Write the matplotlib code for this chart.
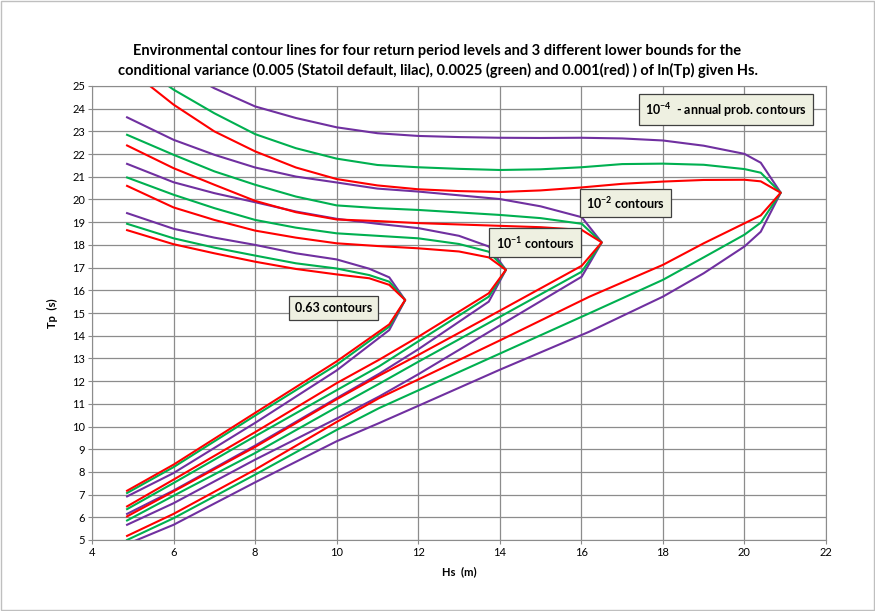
import matplotlib
matplotlib.use("Agg")
import matplotlib.pyplot as plt
from matplotlib.patches import Rectangle

plt.rcParams['font.family'] = ['Lato', 'DejaVu Sans']
plt.rcParams['mathtext.default'] = 'regular'

# 0.63 contours (Hs path: upper branch, peak, lower branch)
hs_063 = [4.86, 6, 7, 8, 9, 10, 10.8, 11.29, 11.68, 11.29, 10, 8, 6, 4.86]
tp_063_lilac = [19.40, 18.71, 18.32, 18.00, 17.63, 17.36, 16.95, 16.57, 15.57, 14.25, 12.47, 10.16, 7.95, 6.92]
tp_063_green = [18.93, 18.29, 17.88, 17.53, 17.19, 16.96, 16.67, 16.38, 15.57, 14.40, 12.72, 10.48, 8.21, 7.07]
tp_063_red = [18.65, 18.03, 17.63, 17.26, 16.94, 16.70, 16.53, 16.24, 15.57, 14.50, 12.87, 10.60, 8.32, 7.17]

# 10^-1 contours
hs_1e1 = [4.86, 6, 7, 8, 9, 10, 11, 12, 13, 13.73, 14.15, 13.73, 12, 11.04, 10, 8, 6, 4.86]
tp_1e1_lilac = [21.57, 20.76, 20.28, 19.88, 19.47, 19.15, 18.93, 18.74, 18.40, 17.93, 16.90,
                15.50, 13.40, 12.32, 11.25, 9.16, 7.18, 6.15]
tp_1e1_green = [20.97, 20.21, 19.62, 19.10, 18.76, 18.51, 18.40, 18.29, 18.04, 17.70, 16.90,
                15.72, 13.75, 12.65, 11.60, 9.57, 7.51, 6.36]
tp_1e1_red = [20.60, 19.65, 19.10, 18.63, 18.32, 18.07, 17.95, 17.85, 17.71, 17.45, 16.90,
              15.87, 13.95, 12.94, 11.91, 9.75, 7.66, 6.48]

# 10^-2 contours
hs_1e2 = [4.86, 6, 7, 8, 9, 10, 11, 12, 14, 15, 16.01, 16.50, 16.01, 14, 12, 11.04, 10, 8, 6, 4.86]
tp_1e2_lilac = [23.62, 22.63, 21.97, 21.41, 21.01, 20.75, 20.48, 20.35, 20.02, 19.70, 19.22, 18.11,
                16.60, 14.45, 12.30, 11.32, 10.35, 8.54, 6.62, 5.67]
tp_1e2_green = [22.85, 21.97, 21.24, 20.65, 20.13, 19.74, 19.62, 19.54, 19.32, 19.18, 18.93, 18.11,
                16.82, 14.83, 12.85, 11.88, 10.85, 8.83, 6.95, 5.86]
tp_1e2_red = [22.38, 21.38, 20.65, 19.94, 19.44, 19.12, 19.05, 18.96, 18.84, 18.78, 18.66, 18.11,
              17.08, 15.10, 13.15, 12.24, 11.20, 9.10, 7.14, 6.04]

# 10^-4 contours
hs_1e4 = [4.86, 6, 7, 8, 9, 10, 11, 12, 13, 14, 15, 16, 17, 18, 19, 20, 20.40, 20.89,
          20.40, 20, 19, 18, 16.2, 14, 12, 11.04, 10, 8, 6, 4.86]
tp_1e4_lilac = [27.3, 25.9, 24.9, 24.10, 23.59, 23.18, 22.92, 22.80, 22.75, 22.72, 22.71, 22.72, 22.69,
                22.60, 22.37, 22.01, 21.62, 20.30,
                18.58, 17.93, 16.75, 15.72, 14.18, 12.50, 10.91, 10.15, 9.35, 7.54, 5.67, 4.82]
tp_1e4_green = [26.3, 24.84, 23.80, 22.88, 22.26, 21.80, 21.52, 21.42, 21.35, 21.30, 21.33, 21.42, 21.56,
                21.58, 21.53, 21.34, 21.18, 20.30,
                18.98, 18.45, 17.45, 16.46, 14.99, 13.21, 11.59, 10.81, 9.85, 7.88, 5.96, 5.00]
tp_1e4_red = [25.8, 24.18, 23.00, 22.12, 21.41, 20.90, 20.62, 20.45, 20.37, 20.33, 20.40, 20.53, 20.69,
              20.79, 20.86, 20.87, 20.80, 20.30,
              19.30, 18.95, 18.07, 17.12, 15.72, 13.79, 12.07, 11.25, 10.20, 8.10, 6.15, 5.18]

labels = ["0.63 contours", "10$^{-1}$ contours", "10$^{-2}$ contours",
          "10$^{-4}$  - annual prob. contours"]
label_pos = [(9.92, 15.21), (14.87, 18.10), (17.08, 19.84), (19.55, 23.96)]

lilac, green, red = '#7030a0', '#00b050', '#ff0000'

fig = plt.figure(figsize=(8.75, 6.11), dpi=100)
ax = fig.add_axes([92 / 875, 1 - 540 / 611, 734 / 875, 454 / 611])

levels = [(hs_063, tp_063_lilac, tp_063_green, tp_063_red),
          (hs_1e1, tp_1e1_lilac, tp_1e1_green, tp_1e1_red),
          (hs_1e2, tp_1e2_lilac, tp_1e2_green, tp_1e2_red),
          (hs_1e4, tp_1e4_lilac, tp_1e4_green, tp_1e4_red)]
for hs, tl, tg, tr in levels:
    ax.plot(hs, tl, color=lilac, lw=1.5)
    ax.plot(hs, tg, color=green, lw=1.5)
    ax.plot(hs, tr, color=red, lw=1.5)

ax.set_xlim(4, 22)
ax.set_ylim(5, 25)
ax.set_xticks(range(4, 23, 2))
ax.set_yticks(range(5, 26))
ax.grid(True, color='#8c8c8c', lw=0.9)
ax.set_axisbelow(True)
for s in ax.spines.values():
    s.set_color('#8c8c8c')
ax.tick_params(labelsize=8, length=3, color='#8c8c8c', pad=2)

ax.set_xlabel('Hs  (m)', fontsize=8, fontweight='bold', labelpad=6)
ax.set_ylabel('Tp  (s)', fontsize=8, fontweight='bold', labelpad=10)

for txt, (x, y) in zip(labels, label_pos):
    ax.text(x, y, txt, fontsize=9, fontweight='bold', ha='center', va='center',
            bbox=dict(boxstyle='square,pad=0.5', fc='#eef0e1', ec='#404040', lw=0.9))

fig.text(0.5, 1 - 61 / 611,
         "Environmental contour lines for four return period levels and 3 different lower bounds for the\n"
         "conditional variance (0.005 (Statoil default, lilac), 0.0025 (green) and 0.001(red) ) of ln(Tp) given Hs.",
         ha='center', va='center', fontsize=10.5, fontweight='bold', linespacing=1.4)

fig.patches.append(Rectangle((0.001, 0.001), 0.998, 0.998, transform=fig.transFigure,
                             fill=False, ec='#bfbfbf', lw=1))

fig.savefig('out.png', dpi=100)
